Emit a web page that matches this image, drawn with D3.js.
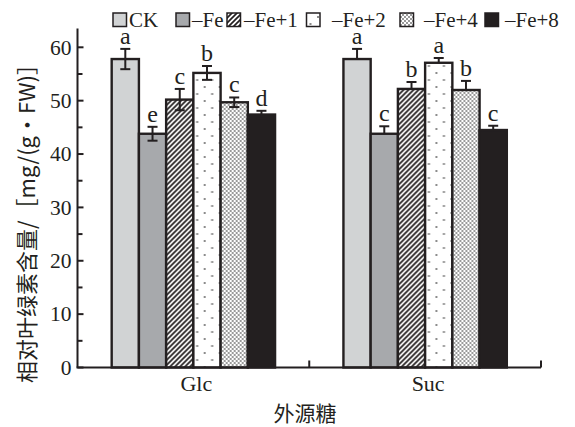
<!DOCTYPE html>
<html>
<head>
<meta charset="utf-8">
<script src="https://cdn.jsdelivr.net/npm/d3@7"></script>
<style>
  html, body { margin: 0; padding: 0; background: #fff; }
  svg { display: block; }
</style>
</head>
<body>
<svg id="chart" width="575" height="427"></svg>
<script>
// Sugar treatments on the x axis
const categories = ["Glc", "Suc"];
// Iron treatments (legend order)
const series = ["CK", "–Fe", "–Fe+1", "–Fe+2", "–Fe+4", "–Fe+8"];
// Relative chlorophyll content, mg/(g·FW), per category
const glcValues = [57.8, 43.8, 50.2, 55.2, 49.7, 47.4];
const sucValues = [57.8, 43.8, 52.2, 57.1, 52.0, 44.5];
// Standard errors
const glcErrors = [1.9, 1.3, 2.0, 1.3, 0.9, 0.7];
const sucErrors = [1.9, 1.4, 1.3, 0.9, 1.7, 0.8];
// Significance letters
const glcLetters = ["a", "e", "c", "b", "c", "d"];
const sucLetters = ["a", "c", "b", "a", "b", "c"];
// Whether the error bar is drawn below the bar top as well
const twoSidedErrors = [true, false];
// Axis ticks
const yTicks = [0, 10, 20, 30, 40, 50, 60];
const yMinorTicks = [5, 15, 25, 35, 45, 55];

const valuesBy = [glcValues, sucValues];
const errorsBy = [glcErrors, sucErrors];
const lettersBy = [glcLetters, sucLetters];

const ink = "#231f20";
const serif = "'Liberation Serif', 'Times New Roman', serif";
const cjk = "'Noto Sans CJK SC', 'Liberation Serif', serif";

const svg = d3.select("#chart");
const left = 77.5, right = 541, bottom = 367.5, top60 = 47.3;

const x = d3.scaleBand().domain(categories).range([left, right]).paddingInner(0.295).paddingOuter(0.1475);
const xOuter = d3.scaleBand().domain(categories).range([left, right]);
const xInner = d3.scaleBand().domain(series).range([0, x.bandwidth()]);
const y = d3.scaleLinear().domain([0, 60]).range([bottom, top60]);

// Fill patterns
const defs = svg.append("defs");
const hatch = defs.append("pattern").attr("id", "hatch").attr("patternUnits", "userSpaceOnUse")
  .attr("width", 5).attr("height", 5);
hatch.append("rect").attr("width", 5).attr("height", 5).attr("fill", "#fff");
hatch.append("path").attr("d", "M-1,6 L6,-1 M-1,1 L1,-1 M4,6 L6,4")
  .attr("stroke", ink).attr("stroke-width", 1.7);

const dots = defs.append("pattern").attr("id", "dots").attr("patternUnits", "userSpaceOnUse")
  .attr("width", 15).attr("height", 14);
dots.append("rect").attr("width", 15).attr("height", 14).attr("fill", "#fff");
dots.append("rect").attr("x", 2).attr("y", 2).attr("width", 2).attr("height", 2).attr("fill", "#8c8c8c");
dots.append("rect").attr("x", 9.5).attr("y", 9).attr("width", 2).attr("height", 2).attr("fill", "#8c8c8c");

const checker = defs.append("pattern").attr("id", "checker").attr("patternUnits", "userSpaceOnUse")
  .attr("width", 4).attr("height", 4);
checker.append("rect").attr("width", 4).attr("height", 4).attr("fill", "#fff");
checker.append("rect").attr("width", 2).attr("height", 2).attr("fill", "#9a9a9a");
checker.append("rect").attr("x", 2).attr("y", 2).attr("width", 2).attr("height", 2).attr("fill", "#9a9a9a");

const fills = d3.scaleOrdinal().domain(series)
  .range(["#d1d3d4", "#a7a9ac", "url(#hatch)", "url(#dots)", "url(#checker)", ink]);

// Bars
categories.forEach((cat, ci) => {
  const g = svg.append("g").attr("transform", `translate(${x(cat)},0)`);
  const rows = series.map((s, i) => ({
    s, v: valuesBy[ci][i], e: errorsBy[ci][i], l: lettersBy[ci][i]
  }));
  g.selectAll("rect.bar").data(rows).join("rect")
    .attr("class", "bar")
    .attr("x", d => xInner(d.s))
    .attr("y", d => y(d.v))
    .attr("width", xInner.bandwidth())
    .attr("height", d => y(0) - y(d.v))
    .attr("fill", d => fills(d.s))
    .attr("stroke", ink).attr("stroke-width", 2.4);

  const cx = d => xInner(d.s) + xInner.bandwidth() / 2;
  const lowEnd = d => twoSidedErrors[ci] ? d.v - d.e : d.v;
  const eb = g.selectAll("g.err").data(rows).join("g").attr("class", "err")
    .attr("stroke", ink).attr("stroke-width", 2);
  eb.append("line").attr("x1", cx).attr("x2", cx)
    .attr("y1", d => y(d.v + d.e)).attr("y2", d => y(lowEnd(d)));
  eb.append("line").attr("x1", d => cx(d) - 5).attr("x2", d => cx(d) + 5)
    .attr("y1", d => y(d.v + d.e)).attr("y2", d => y(d.v + d.e));
  eb.filter(() => twoSidedErrors[ci]).append("line")
    .attr("x1", d => cx(d) - 5).attr("x2", d => cx(d) + 5)
    .attr("y1", d => y(d.v - d.e)).attr("y2", d => y(d.v - d.e));

  g.selectAll("text.sig").data(rows).join("text").attr("class", "sig")
    .attr("x", cx).attr("y", d => y(d.v + d.e) - 5)
    .attr("text-anchor", "middle")
    .attr("font-family", serif).attr("font-size", 24).attr("fill", ink)
    .text(d => d.l);
});

// Y axis
const yAxis = svg.append("g").attr("transform", `translate(${left},0)`);
yAxis.append("line").attr("x1", 0).attr("x2", 0).attr("y1", y(63.5)).attr("y2", bottom)
  .attr("stroke", ink).attr("stroke-width", 2);
yAxis.selectAll("line.major").data(yTicks).join("line").attr("class", "major")
  .attr("x1", 0).attr("x2", 6).attr("y1", d => y(d)).attr("y2", d => y(d))
  .attr("stroke", ink).attr("stroke-width", 2);
yAxis.selectAll("line.minor").data(yMinorTicks).join("line").attr("class", "minor")
  .attr("x1", 0).attr("x2", 5).attr("y1", d => y(d)).attr("y2", d => y(d))
  .attr("stroke", ink).attr("stroke-width", 2);
yAxis.selectAll("text").data(yTicks).join("text")
  .attr("x", -6).attr("y", d => y(d)).attr("dy", "0.34em")
  .attr("text-anchor", "end").attr("font-family", serif).attr("font-size", 21.5).attr("fill", ink)
  .text(d => d);

// X axis
const xAxis = svg.append("g");
xAxis.append("line").attr("x1", left - 1).attr("x2", right).attr("y1", bottom).attr("y2", bottom)
  .attr("stroke", ink).attr("stroke-width", 2);
xAxis.selectAll("line.tick").data(categories).join("line").attr("class", "tick")
  .attr("x1", d => xOuter(d) + xOuter.bandwidth()).attr("x2", d => xOuter(d) + xOuter.bandwidth())
  .attr("y1", bottom).attr("y2", bottom - 7)
  .attr("stroke", ink).attr("stroke-width", 2);
xAxis.selectAll("text").data(categories).join("text")
  .attr("x", d => x(d) + x.bandwidth() / 2 + 3).attr("y", 391)
  .attr("text-anchor", "middle").attr("font-family", serif).attr("font-size", 22).attr("fill", ink)
  .text(d => d);

// Axis titles
svg.append("text").attr("x", 305).attr("y", 421).attr("text-anchor", "middle")
  .attr("font-family", cjk).attr("font-size", 21).attr("fill", ink).text("外源糖");
svg.append("text").attr("transform", "translate(35,218) rotate(-90)")
  .attr("text-anchor", "middle").attr("font-family", cjk).attr("font-size", 22).attr("fill", ink)
  .text("相对叶绿素含量/［mg/(g·FW)］");

// Legend: swatch and label positions along the top row
const legendSwatchX = [113, 176, 227, 306.5, 400, 485];
const legendTextX = [129, 192, 244, 332, 424, 505];
const legend = svg.append("g").selectAll("g").data(series).join("g");
legend.append("rect")
  .attr("x", (d, i) => legendSwatchX[i]).attr("y", 13)
  .attr("width", 13.5).attr("height", 13.5)
  .attr("fill", d => fills(d)).attr("stroke", ink).attr("stroke-width", 1.5);
legend.append("text")
  .attr("x", (d, i) => legendTextX[i]).attr("y", 26.5)
  .attr("font-family", serif).attr("font-size", 21).attr("fill", ink).text(d => d);
</script>
</body>
</html>
